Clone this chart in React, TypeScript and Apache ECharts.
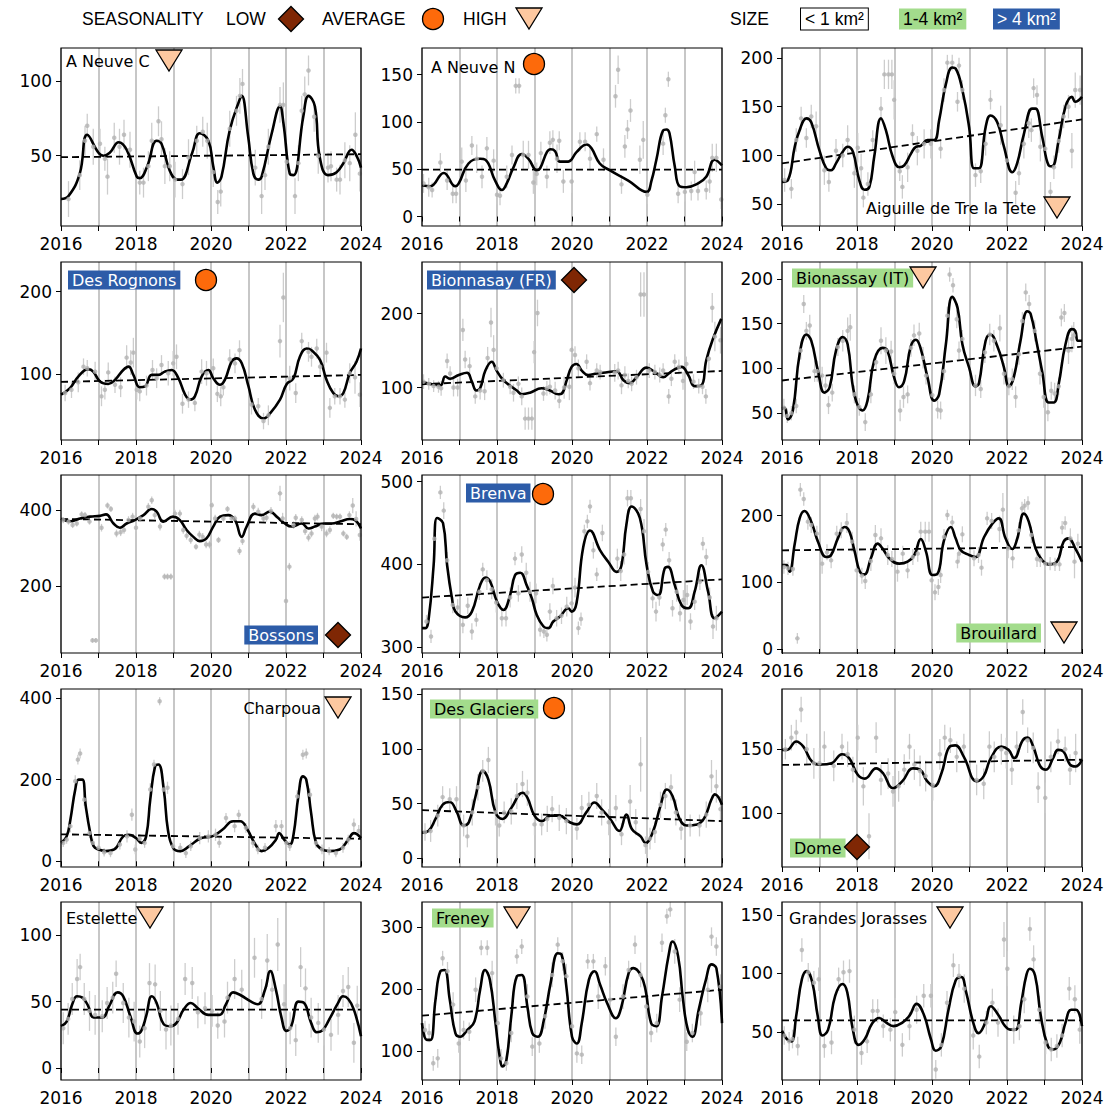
import React, { useEffect, useRef } from "react";
import * as echarts from "echarts";

type Pt = [number, number];
type Obs = [number, number, number]; // [year, value, half error bar]

// ---------- A Neuve C ----------
const aNeuveCFit: Pt[] = [[2016.0,21],[2016.2,23],[2016.5,38],[2016.7,64],[2017.0,52],[2017.13,50],[2017.3,52],[2017.54,59],[2017.75,54],[2018.02,36],[2018.1,35],[2018.3,43],[2018.55,60],[2018.68,58],[2018.9,40],[2019.1,34],[2019.2,34],[2019.5,52],[2019.7,65],[2019.93,60],[2020.06,43],[2020.17,32],[2020.28,36],[2020.5,67],[2020.77,88],[2020.82,90],[2020.99,63],[2021.13,38],[2021.26,34],[2021.35,36],[2021.62,65],[2021.84,83],[2021.93,72],[2022.1,38],[2022.2,37],[2022.46,76],[2022.6,90],[2022.77,83],[2022.9,49],[2023.12,37],[2023.35,39],[2023.53,45],[2023.75,54],[2023.88,50],[2024.0,42]];
const aNeuveCTrend: Pt[] = [[2016, 49], [2024, 51]];
const aNeuveCObs: Obs[] = [[2016.2,21,12],[2016.5,37,10],[2016.64,60,10],[2016.7,70,8],[2016.86,56,12],[2017.04,58,10],[2017.17,48,8],[2017.24,36,12],[2017.42,62,10],[2017.56,56,12],[2017.68,64,10],[2017.84,54,12],[2018.1,32,8],[2018.2,32,10],[2018.33,43,10],[2018.42,60,12],[2018.6,73,10],[2018.68,61,12],[2018.77,43,12],[2018.9,43,10],[2019.04,34,12],[2019.24,31,10],[2019.4,49,12],[2019.62,60,10],[2019.78,66,10],[2019.9,60,12],[2020.06,39,10],[2020.18,19,8],[2020.26,26,10],[2020.5,68,12],[2020.68,80,10],[2020.77,90,12],[2020.84,98,10],[2021.18,42,12],[2021.35,23,12],[2021.44,37,10],[2021.53,56,12],[2021.84,84,12],[2021.93,84,15],[2022.02,46,12],[2022.24,23,12],[2022.33,45,12],[2022.42,80,10],[2022.5,91,12],[2022.6,107,10],[2022.75,76,10],[2022.86,50,12],[2023.12,42,10],[2023.2,43,10],[2023.35,34,8],[2023.44,34,10],[2023.57,47,12],[2023.7,45,12],[2023.85,64,15],[2023.97,38,12]];

// ---------- A Neuve N ----------
const aNeuveNFit: Pt[] = [[2016.0,33],[2016.22,32],[2016.58,46],[2016.89,32],[2016.98,35],[2017.24,56],[2017.55,61],[2017.69,60],[2017.95,38],[2018.13,28],[2018.26,35],[2018.44,52],[2018.66,66],[2018.84,61],[2019.06,49],[2019.15,51],[2019.33,68],[2019.43,71],[2019.55,69],[2019.68,58],[2019.9,58],[2020.12,68],[2020.39,76],[2020.52,72],[2020.74,56],[2021.0,49],[2021.5,38],[2021.99,26],[2022.12,38],[2022.25,60],[2022.43,91],[2022.52,92],[2022.6,88],[2022.74,53],[2022.87,32],[2023.05,31],[2023.36,35],[2023.58,42],[2023.8,60],[2024.0,54]];
const aNeuveNTrend: Pt[] = [[2016, 49.5], [2024, 49.5]];
const aNeuveNObs: Obs[] = [[2016.04,35,10],[2016.18,31,10],[2016.27,28,8],[2016.49,57,10],[2016.67,38,10],[2016.82,24,10],[2016.91,24,10],[2017.06,58,15],[2017.17,38,12],[2017.33,75,10],[2017.46,61,15],[2017.6,42,12],[2017.73,72,12],[2017.91,59,12],[2018.0,23,10],[2018.08,22,10],[2018.26,42,12],[2018.4,65,10],[2018.5,138,8],[2018.59,138,8],[2018.7,65,15],[2018.84,65,15],[2018.97,36,12],[2019.06,45,12],[2019.17,67,12],[2019.33,42,12],[2019.41,78,12],[2019.49,81,10],[2019.6,61,15],[2019.66,80,10],[2019.77,37,12],[2019.99,37,12],[2020.21,79,10],[2020.35,79,10],[2020.48,61,12],[2020.66,87,8],[2020.84,60,12],[2021.16,127,12],[2021.23,155,15],[2021.32,34,10],[2021.41,74,12],[2021.48,92,10],[2021.56,112,12],[2021.81,60,15],[2021.9,81,20],[2022.01,23,10],[2022.43,77,12],[2022.49,107,8],[2022.57,145,8],[2022.83,24,10],[2023.01,26,10],[2023.18,27,10],[2023.27,47,12],[2023.36,27,10],[2023.58,28,10],[2023.67,37,12],[2023.74,62,15],[2023.85,62,15],[2023.98,18,10]];

// ---------- Aiguille de Tre la Tete ----------
const treLaTeteFit: Pt[] = [[2016.0,73],[2016.16,75],[2016.34,109],[2016.47,126],[2016.65,138],[2016.78,134],[2017.0,105],[2017.18,87],[2017.31,85],[2017.44,92],[2017.62,104],[2017.75,109],[2017.89,104],[2018.06,75],[2018.2,65],[2018.33,68],[2018.46,99],[2018.64,138],[2018.77,126],[2018.95,99],[2019.13,88],[2019.26,90],[2019.44,102],[2019.57,109],[2019.7,110],[2019.88,116],[2020.06,116],[2020.19,136],[2020.37,173],[2020.54,190],[2020.63,189],[2020.81,167],[2020.99,129],[2021.12,87],[2021.25,87],[2021.43,129],[2021.56,141],[2021.74,134],[2021.92,109],[2022.14,83],[2022.27,92],[2022.45,122],[2022.67,148],[2022.76,148],[2022.94,119],[2023.11,90],[2023.2,89],[2023.38,116],[2023.56,150],[2023.73,160],[2023.82,155],[2024.0,160]];
const treLaTeteTrend: Pt[] = [[2016, 92], [2024, 137]];
const treLaTeteObs: Obs[] = [[2016.07,75,12],[2016.25,66,10],[2016.38,116,12],[2016.51,138,12],[2016.65,118,10],[2016.78,140,12],[2016.91,130,15],[2017.13,85,15],[2017.25,73,10],[2017.44,105,12],[2017.62,100,12],[2017.75,116,15],[2017.93,82,15],[2018.02,108,15],[2018.11,87,15],[2018.17,57,10],[2018.29,71,12],[2018.42,116,10],[2018.64,148,12],[2018.73,183,15],[2018.84,183,15],[2018.93,183,15],[2018.99,157,20],[2019.14,84,10],[2019.21,68,12],[2019.35,88,15],[2019.48,122,10],[2019.61,105,15],[2019.79,112,15],[2019.97,112,15],[2020.23,107,10],[2020.32,167,12],[2020.41,195,8],[2020.54,195,8],[2020.72,192,8],[2020.68,155,10],[2020.81,167,10],[2021.16,80,12],[2021.3,84,12],[2021.43,112,12],[2021.56,157,10],[2021.83,131,20],[2022.0,95,12],[2022.23,62,12],[2022.32,82,12],[2022.45,112,15],[2022.58,133,15],[2022.71,169,10],[2022.8,162,10],[2022.65,126,12],[2022.89,109,15],[2023.02,107,12],[2023.16,63,10],[2023.25,88,12],[2023.38,115,12],[2023.51,140,12],[2023.64,150,12],[2023.73,105,18],[2023.82,167,18],[2023.95,167,15]];

// ---------- Des Rognons ----------
const rognonsFit: Pt[] = [[2016.0,75],[2016.24,83],[2016.46,97],[2016.73,106],[2016.86,103],[2017.04,91],[2017.26,88],[2017.44,93],[2017.66,105],[2017.8,109],[2017.93,99],[2018.1,84],[2018.24,85],[2018.42,99],[2018.6,99],[2018.77,103],[2018.95,105],[2019.13,95],[2019.31,75],[2019.44,69],[2019.57,73],[2019.75,97],[2019.93,105],[2020.06,95],[2020.24,87],[2020.37,93],[2020.55,115],[2020.68,119],[2020.82,113],[2021.0,85],[2021.17,57],[2021.4,46],[2021.57,52],[2021.84,69],[2022.02,88],[2022.2,95],[2022.37,121],[2022.55,131],[2022.68,129],[2022.91,117],[2023.08,93],[2023.26,77],[2023.4,73],[2023.53,77],[2023.7,101],[2023.88,115],[2024.0,131]];
const rognonsTrend: Pt[] = [[2016, 90.5], [2024, 99]];
const rognonsObs: Obs[] = [[2016.11,77,10],[2016.28,81,10],[2016.46,90,12],[2016.6,109,10],[2016.7,107,10],[2016.91,103,12],[2017.08,73,12],[2017.17,81,12],[2017.26,102,12],[2017.44,87,10],[2017.59,84,12],[2017.75,120,15],[2017.86,114,15],[2017.93,126,18],[2018.02,81,12],[2018.1,79,12],[2018.28,86,12],[2018.44,105,12],[2018.55,95,12],[2018.68,111,12],[2018.86,101,15],[2018.99,113,15],[2019.08,121,15],[2019.24,64,12],[2019.4,69,10],[2019.57,65,10],[2019.75,103,15],[2019.88,101,15],[2020.06,107,12],[2020.17,76,10],[2020.26,73,12],[2020.33,84,10],[2020.5,118,12],[2020.64,113,12],[2020.76,129,12],[2021.08,63,12],[2021.26,61,10],[2021.4,43,10],[2021.53,50,12],[2021.84,140,20],[2021.93,193,30],[2022.1,95,15],[2022.26,77,12],[2022.42,140,10],[2022.6,127,12],[2022.68,121,12],[2022.82,131,12],[2022.91,109,12],[2023.08,126,12],[2023.17,59,12],[2023.3,73,10],[2023.44,73,10],[2023.57,69,10],[2023.7,101,12],[2023.84,96,20],[2023.97,75,15]];

// ---------- Bionnasay (FR) ----------
const bionnasayFrFit: Pt[] = [[2016.0,108],[2016.22,105],[2016.49,103],[2016.62,115],[2016.75,112],[2016.98,117],[2017.2,120],[2017.33,108],[2017.45,96],[2017.55,99],[2017.69,123],[2017.86,135],[2017.99,123],[2018.17,110],[2018.39,101],[2018.53,96],[2018.66,91],[2018.88,93],[2019.19,99],[2019.41,96],[2019.64,91],[2019.73,92],[2019.86,110],[2019.99,128],[2020.12,132],[2020.26,123],[2020.43,117],[2020.66,119],[2020.83,120],[2021.19,122],[2021.37,110],[2021.54,106],[2021.72,114],[2021.99,127],[2022.21,121],[2022.43,114],[2022.65,122],[2022.92,128],[2023.1,117],[2023.27,102],[2023.45,103],[2023.58,137],[2023.76,166],[2023.98,193]];
const bionnasayFrTrend: Pt[] = [[2016, 104.5], [2024, 122.5]];
const bionnasayFrObs: Obs[] = [[2016.04,108,10],[2016.18,105,8],[2016.31,102,8],[2016.44,101,8],[2016.51,99,10],[2016.67,136,10],[2016.75,119,10],[2016.84,100,12],[2016.95,100,12],[2017.09,178,15],[2017.15,138,12],[2017.27,129,12],[2017.42,88,10],[2017.55,96,12],[2017.67,95,12],[2017.75,140,15],[2017.84,188,20],[2017.91,151,20],[2017.99,126,12],[2018.17,110,10],[2018.35,101,10],[2018.44,93,12],[2018.57,105,10],[2018.66,88,12],[2018.75,58,15],[2018.84,58,15],[2018.93,58,15],[2018.99,148,15],[2019.08,201,18],[2019.24,92,10],[2019.33,99,10],[2019.41,101,10],[2019.55,96,12],[2019.66,82,10],[2019.79,100,15],[2019.93,101,18],[2019.99,151,12],[2020.08,144,12],[2020.17,126,12],[2020.39,135,10],[2020.48,106,10],[2020.66,123,10],[2020.75,121,10],[2021.14,120,12],[2021.23,123,12],[2021.32,103,12],[2021.41,117,12],[2021.5,109,10],[2021.59,105,10],[2021.72,114,10],[2021.83,226,30],[2021.92,226,30],[2022.06,123,10],[2022.21,121,10],[2022.34,117,10],[2022.43,123,10],[2022.58,88,10],[2022.65,112,10],[2022.74,135,10],[2022.85,128,10],[2022.96,109,12],[2023.05,132,10],[2023.24,108,10],[2023.38,102,10],[2023.48,101,10],[2023.57,88,10],[2023.65,139,15],[2023.74,208,20],[2023.81,169,20],[2023.96,164,18]];

// ---------- Bionassay (IT) ----------
const bionassayItFit: Pt[] = [[2016.0,55],[2016.07,56],[2016.16,43],[2016.29,53],[2016.47,116],[2016.65,138],[2016.78,131],[2016.96,97],[2017.13,73],[2017.27,79],[2017.44,120],[2017.62,135],[2017.75,127],[2017.93,71],[2018.15,53],[2018.28,64],[2018.46,109],[2018.68,123],[2018.81,120],[2018.99,90],[2019.12,79],[2019.26,86],[2019.43,124],[2019.57,132],[2019.7,122],[2019.88,90],[2020.06,64],[2020.19,71],[2020.37,127],[2020.54,180],[2020.68,168],[2020.81,127],[2020.99,101],[2021.16,80],[2021.25,83],[2021.43,131],[2021.56,138],[2021.74,125],[2021.92,101],[2022.05,80],[2022.18,90],[2022.36,131],[2022.54,164],[2022.63,161],[2022.8,127],[2022.94,96],[2023.11,62],[2023.25,62],[2023.38,83],[2023.56,127],[2023.73,144],[2023.82,142],[2023.89,131],[2024.0,131]];
const bionassayItTrend: Pt[] = [[2016, 86.5], [2024, 124.5]];
const bionassayItObs: Obs[] = [[2016.05,56,10],[2016.14,47,8],[2016.25,50,8],[2016.38,58,8],[2016.5,120,10],[2016.58,172,10],[2016.65,142,10],[2016.74,148,12],[2016.87,97,12],[2016.94,97,12],[2017.07,92,10],[2017.16,81,10],[2017.24,59,10],[2017.34,73,10],[2017.49,124,10],[2017.62,131,12],[2017.75,142,15],[2017.82,146,15],[2017.93,71,10],[2018.06,57,10],[2018.22,40,10],[2018.37,71,10],[2018.51,107,10],[2018.64,131,15],[2018.77,120,15],[2018.91,119,12],[2018.99,94,12],[2019.15,53,12],[2019.24,68,12],[2019.35,71,10],[2019.44,123,10],[2019.52,137,12],[2019.66,139,12],[2019.76,112,12],[2019.84,92,10],[2020.01,70,10],[2020.15,54,10],[2020.23,53,10],[2020.32,97,10],[2020.41,159,10],[2020.47,205,8],[2020.56,193,8],[2020.66,155,10],[2020.72,120,10],[2020.81,133,10],[2021.16,81,12],[2021.3,77,10],[2021.41,118,12],[2021.54,138,12],[2021.65,131,12],[2021.81,145,15],[2021.92,94,12],[2022.05,80,10],[2022.14,88,12],[2022.23,68,12],[2022.32,116,12],[2022.41,153,10],[2022.5,185,10],[2022.59,172,10],[2022.74,142,12],[2022.88,94,12],[2022.98,68,12],[2023.09,51,10],[2023.18,75,10],[2023.27,72,12],[2023.38,80,10],[2023.45,157,10],[2023.53,162,10],[2023.64,120,15],[2023.73,133,15],[2023.78,137,15]];

// ---------- Bossons ----------
const bossonsFit: Pt[] = [[2016.0,377],[2016.24,370],[2016.51,377],[2016.77,382],[2017.04,384],[2017.2,388],[2017.4,364],[2017.57,353],[2017.75,364],[2017.97,373],[2018.2,386],[2018.42,402],[2018.55,395],[2018.73,369],[2018.99,382],[2019.17,373],[2019.35,347],[2019.53,329],[2019.7,318],[2019.88,325],[2020.06,356],[2020.24,382],[2020.46,386],[2020.64,373],[2020.82,329],[2020.95,356],[2021.17,390],[2021.35,386],[2021.57,395],[2021.75,382],[2021.97,364],[2022.15,356],[2022.42,364],[2022.6,351],[2022.77,356],[2023.0,364],[2023.22,364],[2023.44,369],[2023.71,376],[2023.84,373],[2024.0,351]];
const bossonsTrend: Pt[] = [[2016, 376], [2024, 362]];
const bossonsObs: Obs[] = [[2016.06,373,8],[2016.2,369,8],[2016.31,360,8],[2016.42,364,8],[2016.55,388,8],[2016.64,386,8],[2016.76,369,8],[2016.84,58,6],[2016.93,58,6],[2017.08,353,10],[2017.24,411,8],[2017.33,402,8],[2017.48,338,10],[2017.59,341,10],[2017.68,347,10],[2017.8,373,10],[2017.91,382,10],[2018.0,353,10],[2018.11,377,8],[2018.33,408,10],[2018.42,425,10],[2018.5,386,10],[2018.64,356,10],[2018.76,225,8],[2018.84,225,8],[2018.93,225,8],[2019.04,390,10],[2019.17,390,10],[2019.26,347,10],[2019.35,332,10],[2019.46,321,10],[2019.6,303,8],[2019.69,335,10],[2019.78,329,10],[2019.87,309,10],[2019.96,309,10],[2020.02,412,8],[2020.11,377,10],[2020.2,321,8],[2020.33,377,8],[2020.44,402,8],[2020.55,377,10],[2020.64,377,8],[2020.76,292,10],[2020.84,318,10],[2021.13,408,10],[2021.26,395,10],[2021.4,377,10],[2021.48,379,10],[2021.6,397,10],[2021.84,443,20],[2021.91,377,15],[2022.0,161,5],[2022.09,251,10],[2022.2,360,10],[2022.26,379,10],[2022.42,373,10],[2022.51,344,10],[2022.6,327,10],[2022.68,338,10],[2022.77,377,10],[2022.84,382,10],[2022.95,356,12],[2023.08,338,10],[2023.17,347,10],[2023.26,384,8],[2023.35,382,8],[2023.44,382,8],[2023.53,338,8],[2023.62,329,8],[2023.69,386,10],[2023.78,411,20],[2023.87,376,20],[2023.97,334,15]];

// ---------- Brenva ----------
const brenvaFit: Pt[] = [[2016.0,323],[2016.09,323],[2016.18,335],[2016.31,399],[2016.4,456],[2016.56,450],[2016.67,399],[2016.8,359],[2016.89,343],[2017.15,336],[2017.33,343],[2017.55,375],[2017.69,384],[2017.82,379],[2018.0,355],[2018.17,345],[2018.35,363],[2018.48,387],[2018.62,390],[2018.79,375],[2018.93,359],[2019.06,339],[2019.24,325],[2019.37,323],[2019.5,331],[2019.68,337],[2019.9,347],[2019.99,343],[2020.12,353],[2020.3,421],[2020.48,441],[2020.75,417],[2020.97,403],[2021.19,391],[2021.32,399],[2021.45,448],[2021.59,470],[2021.81,456],[2021.99,399],[2022.16,367],[2022.3,363],[2022.47,395],[2022.56,397],[2022.74,375],[2022.92,351],[2023.1,347],[2023.27,367],[2023.45,399],[2023.63,367],[2023.8,335],[2024.0,343]];
const brenvaTrend: Pt[] = [[2016, 360], [2024, 382]];
const brenvaObs: Obs[] = [[2016.12,331,8],[2016.24,313,8],[2016.33,431,8],[2016.49,487,8],[2016.58,465,10],[2016.67,405,10],[2016.82,351,10],[2016.95,348,10],[2017.09,327,10],[2017.22,350,10],[2017.33,319,10],[2017.45,333,8],[2017.53,367,10],[2017.62,394,8],[2017.73,381,12],[2017.86,370,12],[2017.98,354,12],[2018.13,335,10],[2018.24,335,10],[2018.35,360,12],[2018.48,407,8],[2018.57,365,10],[2018.66,412,10],[2018.78,390,12],[2018.88,367,12],[2019.04,365,12],[2019.15,321,8],[2019.25,319,8],[2019.33,315,8],[2019.41,343,10],[2019.49,374,10],[2019.59,335,10],[2019.72,338,10],[2019.86,349,12],[2019.99,353,12],[2020.08,372,12],[2020.17,323,8],[2020.24,334,8],[2020.33,440,8],[2020.41,452,8],[2020.48,470,8],[2020.57,417,10],[2020.66,388,8],[2020.81,438,10],[2021.21,407,12],[2021.3,392,12],[2021.39,412,12],[2021.48,480,10],[2021.57,480,10],[2021.83,467,12],[2021.92,440,15],[2022.03,391,12],[2022.15,359,12],[2022.24,343,12],[2022.33,360,10],[2022.42,424,8],[2022.5,442,8],[2022.59,405,10],[2022.68,347,10],[2022.79,367,12],[2022.88,341,10],[2022.97,357,12],[2023.07,363,12],[2023.16,331,10],[2023.27,355,10],[2023.41,379,10],[2023.49,425,8],[2023.58,409,10],[2023.67,360,12],[2023.76,325,15],[2023.85,335,15]];

// ---------- Brouillard ----------
const brouillardFit: Pt[] = [[2016.0,126],[2016.12,126],[2016.2,116],[2016.34,158],[2016.47,196],[2016.6,207],[2016.78,191],[2016.96,161],[2017.18,138],[2017.31,141],[2017.49,166],[2017.67,183],[2017.8,176],[2017.93,148],[2018.11,113],[2018.2,112],[2018.37,136],[2018.55,158],[2018.68,151],[2018.86,136],[2019.13,128],[2019.35,131],[2019.53,141],[2019.7,165],[2019.84,146],[2020.01,111],[2020.15,113],[2020.32,163],[2020.5,183],[2020.63,166],[2020.77,148],[2020.99,141],[2021.16,138],[2021.39,168],[2021.61,188],[2021.78,196],[2021.96,166],[2022.14,150],[2022.27,165],[2022.45,203],[2022.58,191],[2022.76,151],[2022.94,133],[2023.11,127],[2023.33,131],[2023.51,161],[2023.64,166],[2023.82,151],[2024.0,131]];
const brouillardTrend: Pt[] = [[2016, 148], [2024, 153]];
const brouillardObs: Obs[] = [[2016.05,123,10],[2016.16,121,10],[2016.29,120,10],[2016.41,16,8],[2016.49,239,10],[2016.58,225,10],[2016.69,191,12],[2016.78,186,12],[2016.93,173,12],[2017.07,128,15],[2017.2,145,12],[2017.31,133,12],[2017.46,173,12],[2017.58,178,12],[2017.73,189,15],[2017.87,161,15],[2017.99,118,12],[2018.13,110,12],[2018.22,102,12],[2018.37,132,15],[2018.49,171,15],[2018.64,166,15],[2018.82,141,15],[2018.93,135,12],[2019.08,116,15],[2019.22,143,12],[2019.35,118,12],[2019.49,138,12],[2019.62,143,12],[2019.7,176,15],[2019.82,176,15],[2019.92,176,15],[2019.99,103,12],[2020.08,85,12],[2020.17,93,12],[2020.23,111,12],[2020.32,168,12],[2020.41,201,8],[2020.54,190,10],[2020.68,131,10],[2020.72,143,12],[2020.81,172,12],[2021.12,136,12],[2021.24,141,12],[2021.32,122,12],[2021.47,196,10],[2021.59,192,12],[2021.8,180,20],[2021.89,209,25],[2022.03,151,15],[2022.15,136,15],[2022.31,178,12],[2022.4,211,10],[2022.47,215,10],[2022.56,219,10],[2022.65,171,12],[2022.8,135,12],[2022.89,133,10],[2023.02,128,10],[2023.15,128,10],[2023.28,127,10],[2023.4,127,10],[2023.47,182,10],[2023.55,189,10],[2023.69,166,15],[2023.8,131,25],[2023.89,158,15]];

// ---------- Charpoua ----------
const charpouaFit: Pt[] = [[2016.0,45],[2016.15,61],[2016.25,102],[2016.38,176],[2016.47,200],[2016.57,200],[2016.66,135],[2016.78,69],[2016.87,37],[2017.0,29],[2017.19,25],[2017.42,29],[2017.66,61],[2017.81,65],[2018.0,57],[2018.14,45],[2018.27,61],[2018.38,151],[2018.51,233],[2018.6,237],[2018.74,176],[2018.85,78],[2018.99,33],[2019.18,25],[2019.42,37],[2019.74,57],[2020.03,61],[2020.31,78],[2020.59,98],[2020.78,98],[2020.97,78],[2021.16,45],[2021.35,25],[2021.54,33],[2021.73,53],[2021.82,69],[2021.95,53],[2022.1,41],[2022.2,65],[2022.33,159],[2022.45,208],[2022.54,200],[2022.67,118],[2022.8,45],[2022.96,29],[2023.15,25],[2023.43,29],[2023.66,53],[2023.81,69],[2024.0,57]];
const charpouaTrend: Pt[] = [[2016, 66], [2024, 55]];
const charpouaObs: Obs[] = [[2016.06,45,10],[2016.15,53,10],[2016.25,86,15],[2016.38,196,15],[2016.45,249,12],[2016.51,264,12],[2016.62,151,15],[2016.76,69,12],[2016.85,45,10],[2017.0,33,10],[2017.15,22,10],[2017.32,20,10],[2017.57,41,12],[2017.76,61,15],[2017.89,114,15],[2017.98,29,12],[2018.1,55,12],[2018.23,45,12],[2018.38,176,15],[2018.48,237,12],[2018.63,392,10],[2018.74,176,15],[2018.84,180,15],[2018.99,37,12],[2019.18,33,12],[2019.33,20,12],[2019.46,37,12],[2019.7,57,15],[2019.93,61,15],[2020.12,65,15],[2020.22,45,12],[2020.4,106,12],[2020.63,86,15],[2020.74,114,12],[2020.93,82,12],[2021.12,45,12],[2021.25,29,12],[2021.44,33,12],[2021.73,86,15],[2021.88,86,15],[2022.01,45,12],[2022.1,37,12],[2022.3,159,15],[2022.45,261,12],[2022.54,264,12],[2022.64,163,15],[2022.8,45,12],[2022.96,29,12],[2023.15,25,10],[2023.33,20,10],[2023.52,33,12],[2023.66,53,12],[2023.81,90,15],[2023.94,74,15]];

// ---------- Des Glaciers ----------
const glaciersFit: Pt[] = [[2016.0,23.5],[2016.17,25],[2016.36,36],[2016.55,49],[2016.74,51.5],[2016.92,43],[2017.11,30],[2017.25,33],[2017.43,57],[2017.62,80],[2017.77,72],[2017.96,42],[2018.15,36],[2018.38,46],[2018.68,60],[2018.81,55.5],[2019.0,39],[2019.19,34],[2019.43,39],[2019.66,39],[2019.94,33],[2020.13,31],[2020.38,42],[2020.6,51],[2020.79,45],[2021.02,36],[2021.26,25],[2021.45,40],[2021.6,26.5],[2021.83,20],[2021.96,14],[2022.15,23.5],[2022.36,48],[2022.53,63],[2022.68,57],[2022.87,36],[2023.06,30],[2023.34,31],[2023.53,37],[2023.72,54],[2023.81,58.5],[2024.0,49]];
const glaciersTrend: Pt[] = [[2016, 44], [2024, 34]];
const glaciersObs: Obs[] = [[2016.08,24,8],[2016.23,25,10],[2016.42,39,10],[2016.55,56,10],[2016.74,54,10],[2016.92,54,12],[2017.11,30,10],[2017.21,20,10],[2017.34,42,12],[2017.49,65,12],[2017.62,80,10],[2017.77,90,12],[2017.96,42,12],[2018.06,30,10],[2018.19,42,10],[2018.38,43,12],[2018.53,57,12],[2018.68,68,12],[2018.81,60,12],[2019.0,31,10],[2019.19,31,10],[2019.34,36,12],[2019.47,45,12],[2019.66,37,12],[2019.85,34,12],[2020.13,27,10],[2020.26,46,12],[2020.45,49,12],[2020.66,57,12],[2020.79,42,12],[2020.98,33,12],[2021.17,46,12],[2021.32,22,10],[2021.55,52,15],[2021.7,33,12],[2021.83,86,25],[2021.96,12,8],[2022.08,18,10],[2022.21,24,10],[2022.36,49,12],[2022.49,57,12],[2022.64,65,12],[2022.77,42,12],[2022.91,27,10],[2023.15,30,10],[2023.4,30,10],[2023.58,40,12],[2023.72,75,15],[2023.85,66,15],[2023.96,45,12]];

// ---------- Dome ----------
const domeFit: Pt[] = [[2016.0,149.5],[2016.13,149.5],[2016.38,156],[2016.57,152],[2016.81,140],[2017.04,138],[2017.32,139],[2017.6,146],[2017.79,143],[2018.02,130],[2018.21,127],[2018.51,135],[2018.7,131],[2018.96,119.5],[2019.21,125],[2019.49,135],[2019.68,134],[2019.87,125],[2020.06,121],[2020.25,131],[2020.47,152],[2020.62,153],[2020.85,144],[2021.19,125],[2021.38,129],[2021.57,143],[2021.85,152],[2022.04,149.5],[2022.19,143],[2022.42,157],[2022.55,159],[2022.7,152],[2022.89,136.5],[2023.04,134],[2023.23,143],[2023.36,149.5],[2023.51,148],[2023.68,138],[2023.83,136.5],[2024.0,142]];
const domeTrend: Pt[] = [[2016, 137.7], [2024, 141.8]];
const domeObs: Obs[] = [[2016.09,150,8],[2016.25,159,10],[2016.38,163,10],[2016.51,181,10],[2016.66,150,12],[2016.85,139,12],[2017.0,139,12],[2017.13,152,12],[2017.38,137,12],[2017.6,152,10],[2017.75,146,10],[2017.89,134,10],[2018.02,159,10],[2018.17,121,15],[2018.32,82,18],[2018.51,159,12],[2018.64,126,12],[2018.83,131,12],[2018.96,117,12],[2019.11,121,12],[2019.26,134,12],[2019.4,152,10],[2019.53,138,12],[2019.68,133,12],[2019.83,129,12],[2020.02,122,12],[2020.21,146,12],[2020.34,159,10],[2020.49,157,10],[2020.66,144,12],[2020.85,152,10],[2021.19,126,12],[2021.38,123,12],[2021.53,152,12],[2021.66,144,12],[2021.85,150,12],[2021.98,147,12],[2022.13,134,12],[2022.26,152,12],[2022.42,179,10],[2022.55,157,10],[2022.7,151,12],[2022.83,120,12],[2023.02,112,12],[2023.17,144,12],[2023.36,156,10],[2023.55,150,10],[2023.68,134,12],[2023.83,147,15]];

// ---------- Estelette ----------
const esteletteFit: Pt[] = [[2016.0,31.5],[2016.15,35],[2016.3,48],[2016.43,54],[2016.57,53],[2016.72,47],[2016.87,38],[2017.1,38],[2017.29,47],[2017.51,57],[2017.66,54],[2017.85,39],[2018.04,26],[2018.14,28],[2018.27,39],[2018.42,54],[2018.55,49],[2018.74,33],[2018.93,31.5],[2019.08,34],[2019.27,44],[2019.46,49],[2019.65,45],[2019.93,40],[2020.22,40],[2020.4,48],[2020.59,57],[2020.78,55],[2021.07,50],[2021.25,48],[2021.44,59],[2021.58,73],[2021.73,59],[2021.88,38],[2022.01,28],[2022.14,31.5],[2022.33,50],[2022.48,49],[2022.67,34],[2022.82,27],[2022.96,28],[2023.15,36.5],[2023.39,49],[2023.52,54],[2023.66,52],[2023.81,44],[2024.0,24]];
const esteletteTrend: Pt[] = [[2016, 44], [2024, 44]];
const esteletteObs: Obs[] = [[2016.06,30,12],[2016.19,37,12],[2016.3,52,12],[2016.43,67,15],[2016.51,76,10],[2016.62,52,12],[2016.76,43,15],[2016.91,40,15],[2017.1,39,12],[2017.23,49,12],[2017.38,53,12],[2017.47,71,10],[2017.66,49,15],[2017.81,38,15],[2017.95,35,15],[2018.1,20,12],[2018.23,30,15],[2018.36,64,15],[2018.51,63,15],[2018.65,43,15],[2018.8,29,15],[2018.93,32,15],[2019.12,37,12],[2019.31,67,12],[2019.5,64,12],[2019.65,42,12],[2019.84,45,12],[2020.03,43,12],[2020.18,32,10],[2020.36,35,12],[2020.44,53,12],[2020.63,67,15],[2020.82,59,15],[2021.16,83,15],[2021.35,52,15],[2021.5,81,20],[2021.63,59,15],[2021.78,93,20],[2021.95,48,15],[2022.11,30,12],[2022.26,21,12],[2022.39,76,15],[2022.52,60,15],[2022.67,38,15],[2022.86,34,15],[2023.01,29,12],[2023.2,25,12],[2023.39,40,15],[2023.52,58,12],[2023.66,61,15],[2023.81,19,15],[2023.9,47,15]];

// ---------- Freney ----------
const freneyFit: Pt[] = [[2016.0,145],[2016.13,118],[2016.23,118],[2016.36,183],[2016.49,229],[2016.6,231],[2016.74,183],[2016.89,129],[2017.02,123],[2017.21,134],[2017.4,148],[2017.55,199],[2017.68,231],[2017.81,215],[2017.96,145],[2018.06,96],[2018.15,75],[2018.25,85],[2018.38,156],[2018.53,221],[2018.66,223],[2018.81,172],[2018.94,129],[2019.09,123],[2019.25,150],[2019.43,210],[2019.62,258],[2019.72,256],[2019.85,204],[2020.0,123],[2020.13,112],[2020.26,145],[2020.45,215],[2020.6,229],[2020.75,207],[2020.94,177],[2021.17,153],[2021.32,172],[2021.51,226],[2021.64,234],[2021.83,223],[2021.96,199],[2022.11,145],[2022.25,140],[2022.4,188],[2022.58,256],[2022.68,277],[2022.83,253],[2022.96,183],[2023.09,134],[2023.21,123],[2023.38,167],[2023.57,215],[2023.72,240],[2023.85,234],[2024.0,145]];
const freneyTrend: Pt[] = [[2016, 157], [2024, 199]];
const freneyObs: Obs[] = [[2016.08,134,15],[2016.19,129,15],[2016.3,80,12],[2016.42,88,15],[2016.55,250,12],[2016.68,229,15],[2016.83,175,20],[2016.98,112,15],[2017.11,134,15],[2017.26,131,15],[2017.43,199,20],[2017.58,267,12],[2017.74,267,12],[2017.87,226,20],[2018.02,145,20],[2018.11,88,15],[2018.25,80,12],[2018.38,129,15],[2018.53,253,12],[2018.66,269,12],[2018.81,188,20],[2018.94,107,15],[2019.13,112,15],[2019.28,156,20],[2019.47,223,20],[2019.62,272,12],[2019.75,245,15],[2019.85,221,20],[2020.0,140,15],[2020.13,96,15],[2020.26,94,15],[2020.42,245,12],[2020.57,245,12],[2020.7,188,20],[2020.89,237,15],[2021.02,183,20],[2021.17,123,15],[2021.36,188,20],[2021.51,231,15],[2021.68,272,15],[2021.83,223,20],[2021.98,172,20],[2022.11,129,15],[2022.26,145,15],[2022.4,275,15],[2022.53,318,12],[2022.62,329,12],[2022.74,261,20],[2022.87,183,20],[2023.06,115,15],[2023.21,129,15],[2023.43,161,20],[2023.62,199,20],[2023.72,285,15],[2023.85,269,15],[2023.96,204,20]];

// ---------- Grandes Jorasses ----------
const jorassesFit: Pt[] = [[2016.0,51],[2016.13,44],[2016.25,42],[2016.38,64],[2016.53,95],[2016.66,102],[2016.81,92],[2016.95,64],[2017.08,47],[2017.23,52],[2017.42,81],[2017.61,91],[2017.74,84],[2017.89,52],[2018.04,39],[2018.21,44],[2018.4,57],[2018.59,62],[2018.78,58],[2018.97,55],[2019.21,58],[2019.4,64],[2019.59,74],[2019.78,65],[2019.97,44],[2020.1,34],[2020.25,38],[2020.44,69],[2020.63,94],[2020.78,97],[2020.91,84],[2021.1,58],[2021.24,49],[2021.42,58],[2021.57,72],[2021.76,65],[2021.95,55],[2022.1,52],[2022.23,52],[2022.38,75],[2022.52,99],[2022.61,104],[2022.75,98],[2022.9,64],[2023.09,38],[2023.24,35],[2023.41,41],[2023.56,58],[2023.71,69],[2023.84,69],[2024.0,55]];
const jorassesTrend: Pt[] = [[2016, 60], [2024, 60]];
const jorassesObs: Obs[] = [[2016.06,47,8],[2016.19,42,8],[2016.28,44,8],[2016.42,38,8],[2016.53,120,10],[2016.7,101,8],[2016.85,92,10],[2016.98,95,10],[2017.13,38,10],[2017.32,41,10],[2017.51,95,10],[2017.64,101,10],[2017.8,102,10],[2017.93,52,12],[2018.12,32,10],[2018.27,42,10],[2018.42,68,10],[2018.55,68,10],[2018.7,55,10],[2018.89,52,10],[2019.02,67,12],[2019.21,39,10],[2019.4,55,12],[2019.59,69,12],[2019.78,81,10],[2019.97,81,10],[2020.1,18,8],[2020.25,39,10],[2020.4,75,10],[2020.57,107,10],[2020.72,98,10],[2020.86,87,12],[2021.1,47,12],[2021.26,29,10],[2021.45,58,10],[2021.61,75,12],[2021.76,58,12],[2021.92,129,15],[2022.01,104,15],[2022.18,52,12],[2022.33,55,12],[2022.46,78,12],[2022.61,138,10],[2022.71,112,12],[2022.86,69,12],[2023.03,41,10],[2023.18,35,10],[2023.33,38,10],[2023.47,47,10],[2023.66,87,10],[2023.81,78,12],[2023.94,52,12]];

// ---------- layout & styling ----------
const COL_LEFT = [61, 422, 782];
const ROW_TOP = [48, 262, 475, 689, 902];
const PANEL_W = 300;
const PANEL_H = 178;

const GREEN = "#a3dc8c";
const BLUE = "#2d5ca8";
const SEASON_FILL = { low: "#7f2704", average: "#fd6a0b", high: "#fdc8a0" };
const TICK_FONT = "DejaVu Sans";

type Size = "small" | "medium" | "large";
type Season = "low" | "average" | "high";

interface Glacier {
  name: string;
  size: Size;
  season: Season;
  fit: Pt[];
  trend: Pt[];
  obs: Obs[];
  yMin: number;
  yMax: number;
  yTicks: number[];
  tag: [number, number, "left" | "right"];
  mark: [number, number];
}

const GLACIERS: Glacier[] = [
  { name: "A Neuve C", size: "small", season: "high", fit: aNeuveCFit, trend: aNeuveCTrend, obs: aNeuveCObs, yMin: 3, yMax: 122, yTicks: [50, 100], tag: [5, 13, "left"], mark: [108, 12] },
  { name: "A Neuve N", size: "small", season: "average", fit: aNeuveNFit, trend: aNeuveNTrend, obs: aNeuveNObs, yMin: -10, yMax: 178, yTicks: [0, 50, 100, 150], tag: [9, 19, "left"], mark: [112, 16] },
  { name: "Aiguille de Tre la Tete", size: "small", season: "high", fit: treLaTeteFit, trend: treLaTeteTrend, obs: treLaTeteObs, yMin: 28, yMax: 210, yTicks: [50, 100, 150, 200], tag: [254, 160, "right"], mark: [275, 159] },
  { name: "Des Rognons", size: "large", season: "average", fit: rognonsFit, trend: rognonsTrend, obs: rognonsObs, yMin: 20, yMax: 236, yTicks: [100, 200], tag: [7, 18, "left"], mark: [145, 18] },
  { name: "Bionnasay (FR)", size: "large", season: "low", fit: bionnasayFrFit, trend: bionnasayFrTrend, obs: bionnasayFrObs, yMin: 29, yMax: 270, yTicks: [100, 200], tag: [5, 18, "left"], mark: [152, 18] },
  { name: "Bionassay (IT)", size: "medium", season: "high", fit: bionassayItFit, trend: bionassayItTrend, obs: bionassayItObs, yMin: 20, yMax: 219, yTicks: [50, 100, 150, 200], tag: [10, 16, "left"], mark: [141, 15] },
  { name: "Bossons", size: "large", season: "low", fit: bossonsFit, trend: bossonsTrend, obs: bossonsObs, yMin: 25, yMax: 491, yTicks: [200, 400], tag: [257, 160, "right"], mark: [277, 160] },
  { name: "Brenva", size: "large", season: "average", fit: brenvaFit, trend: brenvaTrend, obs: brenvaObs, yMin: 293, yMax: 508, yTicks: [300, 400, 500], tag: [44, 18, "left"], mark: [121, 19] },
  { name: "Brouillard", size: "medium", season: "high", fit: brouillardFit, trend: brouillardTrend, obs: brouillardObs, yMin: -6, yMax: 261, yTicks: [0, 100, 200], tag: [259, 158, "right"], mark: [282, 157] },
  { name: "Charpoua", size: "small", season: "high", fit: charpouaFit, trend: charpouaTrend, obs: charpouaObs, yMin: -14, yMax: 422, yTicks: [0, 200, 400], tag: [260, 19, "right"], mark: [277, 18] },
  { name: "Des Glaciers", size: "medium", season: "average", fit: glaciersFit, trend: glaciersTrend, obs: glaciersObs, yMin: -8, yMax: 155, yTicks: [0, 50, 100, 150], tag: [8, 20, "left"], mark: [132, 19] },
  { name: "Dome", size: "medium", season: "low", fit: domeFit, trend: domeTrend, obs: domeObs, yMin: 58, yMax: 197, yTicks: [100, 150], tag: [8, 159, "left"], mark: [75, 158] },
  { name: "Estelette", size: "small", season: "high", fit: esteletteFit, trend: esteletteTrend, obs: esteletteObs, yMin: -9, yMax: 125, yTicks: [0, 50, 100], tag: [5, 16, "left"], mark: [89, 15] },
  { name: "Freney", size: "medium", season: "high", fit: freneyFit, trend: freneyTrend, obs: freneyObs, yMin: 53, yMax: 341, yTicks: [100, 200, 300], tag: [10, 16, "left"], mark: [95, 15] },
  { name: "Grandes Jorasses", size: "small", season: "high", fit: jorassesFit, trend: jorassesTrend, obs: jorassesObs, yMin: 9, yMax: 161, yTicks: [50, 100, 150], tag: [7, 16, "left"], mark: [168, 15] },
];

function seasonMarker(season: Season, cx: number, cy: number, z = 60): any {
  const style = { fill: SEASON_FILL[season], stroke: "#000", lineWidth: 1.3 };
  if (season === "average") {
    return { type: "circle", shape: { cx, cy, r: 10.5 }, style, z };
  }
  if (season === "low") {
    const h = 12.5;
    return { type: "polygon", shape: { points: [[cx, cy - h], [cx + h, cy], [cx, cy + h], [cx - h, cy]] }, style, z };
  }
  return { type: "polygon", shape: { points: [[cx - 13, cy - 10], [cx + 13, cy - 10], [cx, cy + 11]] }, style, z };
}

function nameTag(name: string, size: Size, x: number, y: number, align: "left" | "right"): any {
  const style: any = {
    text: name,
    x,
    y,
    font: `16px "${TICK_FONT}"`,
    fill: size === "large" ? "#ffffff" : "#000000",
    align,
    verticalAlign: "middle",
  };
  if (size !== "small") {
    style.backgroundColor = size === "large" ? BLUE : GREEN;
    style.padding = [2, 4, 1, 4];
  }
  return { type: "text", style, z: 60 };
}

function errorBar(params: any, api: any) {
  const x = api.value(0);
  const y = api.value(1);
  const e = api.value(2);
  const a = api.coord([x, y - e]);
  const b = api.coord([x, y + e]);
  return {
    type: "line",
    shape: { x1: a[0], y1: a[1], x2: b[0], y2: b[1] },
    style: { stroke: "#cdcdcd", lineWidth: 1.3 },
  };
}

function buildOption() {
  const grid: any[] = [];
  const xAxis: any[] = [];
  const yAxis: any[] = [];
  const series: any[] = [];
  const graphic: any[] = [];

  GLACIERS.forEach((g, i) => {
    const left = COL_LEFT[i % 3];
    const top = ROW_TOP[Math.floor(i / 3)];
    grid.push({ left, top, width: PANEL_W, height: PANEL_H, containLabel: false, outerBoundsMode: "none" });
    xAxis.push({
      gridIndex: i,
      type: "value",
      min: 2016,
      max: 2024,
      interval: 1,
      axisLine: { show: false },
      axisTick: { show: true, length: 5, lineStyle: { color: "#000", width: 1 } },
      axisLabel: {
        color: "#000",
        fontFamily: TICK_FONT,
        fontSize: 17,
        margin: 9,
        formatter: (v: number) => (v % 2 === 0 ? String(v) : ""),
      },
      splitLine: { show: true, lineStyle: { color: "#b4b4b4", width: 1.5 } },
    });
    yAxis.push({
      gridIndex: i,
      type: "value",
      min: g.yMin,
      max: g.yMax,
      axisLine: { show: false },
      axisTick: { show: true, length: 5, customValues: g.yTicks, lineStyle: { color: "#000", width: 1 } },
      axisLabel: { customValues: g.yTicks, color: "#000", fontFamily: TICK_FONT, fontSize: 17, margin: 9 },
      splitLine: { show: false },
    });

    series.push({
      type: "custom",
      xAxisIndex: i,
      yAxisIndex: i,
      data: g.obs,
      encode: { x: 0, y: 1 },
      renderItem: errorBar,
      clip: true,
      silent: true,
      z: 2,
    });
    series.push({
      type: "line",
      xAxisIndex: i,
      yAxisIndex: i,
      data: g.fit,
      smooth: 0.45,
      symbol: "none",
      lineStyle: { color: "#000", width: 2.6 },
      silent: true,
      z: 3,
    });
    series.push({
      type: "line",
      xAxisIndex: i,
      yAxisIndex: i,
      data: g.trend,
      symbol: "none",
      lineStyle: { color: "#000", width: 1.8, type: [7, 4] },
      silent: true,
      z: 3,
    });
    series.push({
      type: "scatter",
      xAxisIndex: i,
      yAxisIndex: i,
      data: g.obs.map((o) => [o[0], o[1]]),
      symbolSize: 4.5,
      itemStyle: { color: "#b3b3b3" },
      clip: true,
      silent: true,
      z: 4,
    });

    graphic.push({
      type: "rect",
      shape: { x: left, y: top, width: PANEL_W, height: PANEL_H },
      style: { fill: "none", stroke: "#000", lineWidth: 1.2 },
      silent: true,
      z: 50,
    });
    graphic.push(nameTag(g.name, g.size, left + g.tag[0], top + g.tag[1], g.tag[2]));
    graphic.push(seasonMarker(g.season, left + g.mark[0], top + g.mark[1]));
  });

  // header: seasonality and size keys
  const legendFont = '17.5px "Liberation Sans"';
  const headText = (text: string, x: number, extra: any = {}) => ({
    type: "text",
    style: { text, x, y: 19, font: legendFont, fill: "#000", align: "left", verticalAlign: "middle", ...extra },
    z: 60,
  });
  graphic.push(headText("SEASONALITY", 82));
  graphic.push(headText("LOW", 226));
  graphic.push(seasonMarker("low", 291, 19));
  graphic.push(headText("AVERAGE", 322));
  graphic.push(seasonMarker("average", 433, 19));
  graphic.push(headText("HIGH", 463));
  graphic.push(seasonMarker("high", 529, 18));
  graphic.push(headText("SIZE", 730));
  graphic.push(headText("< 1 km²", 801, { backgroundColor: "#fff", borderColor: "#000", borderWidth: 1, padding: [2, 4, 1, 4] }));
  graphic.push(headText("1-4 km²", 899, { backgroundColor: GREEN, padding: [2, 4, 1, 4] }));
  graphic.push(headText("> 4 km²", 993, { backgroundColor: BLUE, fill: "#fff", padding: [2, 4, 1, 4] }));

  return {
    animation: false,
    backgroundColor: "#ffffff",
    grid,
    xAxis,
    yAxis,
    series,
    graphic: { elements: graphic },
  };
}

export default function App() {
  const ref = useRef<HTMLDivElement>(null);
  useEffect(() => {
    if (!ref.current) return;
    const chart = echarts.init(ref.current, undefined, { renderer: "svg" });
    chart.setOption(buildOption());
    return () => chart.dispose();
  }, []);
  return (
    <div
      ref={ref}
      style={{ position: "fixed", left: 0, top: 0, width: 1110, height: 1111, background: "#fff" }}
    />
  );
}
